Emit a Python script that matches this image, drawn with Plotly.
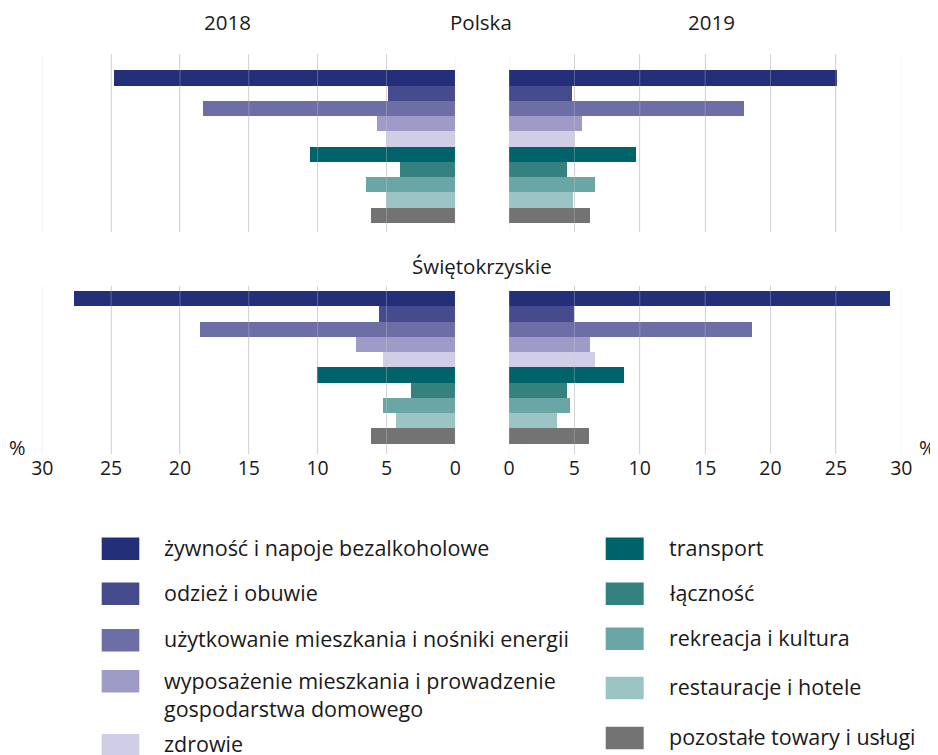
import plotly.graph_objects as go

categories = [
    "żywność i napoje bezalkoholowe",
    "odzież i obuwie",
    "użytkowanie mieszkania i nośniki energii",
    "wyposażenie mieszkania i prowadzenie<br>gospodarstwa domowego",
    "zdrowie",
    "transport",
    "łączność",
    "rekreacja i kultura",
    "restauracje i hotele",
    "pozostałe towary i usługi",
]
colors = ["#232F78", "#454B8C", "#6E6EA7", "#9E9CC6", "#CFCEE6",
          "#00636C", "#35817F", "#6BA6A6", "#9DC4C4", "#737373"]

polska_2018 = [24.8, 4.9, 18.3, 5.7, 5.0, 10.5, 4.0, 6.5, 5.0, 6.1]
polska_2019 = [25.1, 4.8, 18.0, 5.6, 5.0, 9.7, 4.4, 6.6, 4.9, 6.2]
swiet_2018 = [27.7, 5.5, 18.5, 7.2, 5.2, 10.0, 3.2, 5.2, 4.3, 6.1]
swiet_2019 = [29.1, 5.0, 18.6, 6.2, 6.6, 8.8, 4.4, 4.7, 3.7, 6.1]

tick_vals = [0, 5, 10, 15, 20, 25, 30]
tick_text = ["0", "5", "10", "15", "20", "25", "30"]

W, H = 938, 755
OFF = 8  # page body margin offset
FONT = "Open Sans"
TXT = "#1a1a1a"

def px_x(p):
    return (p - OFF) / W

def px_y(p):
    return 1 - (p - OFF) / H

fig = go.Figure()
idx = list(range(len(categories)))
panels = [
    (polska_2018, "x", "y"),
    (polska_2019, "x2", "y"),
    (swiet_2018, "x3", "y2"),
    (swiet_2019, "x4", "y2"),
]
for vals, xa, ya in panels:
    fig.add_trace(go.Bar(
        x=vals, y=idx, orientation="h", xaxis=xa, yaxis=ya,
        marker=dict(color=colors, line=dict(width=0)),
        width=1.0, showlegend=False,
        hovertext=[c.replace("<br>", " ") for c in categories],
    ))

left_dom = [px_x(42.3), px_x(455.3)]
right_dom = [px_x(509.0), px_x(901.3)]

def xax(dom, rng, anchor, labels):
    return dict(domain=dom, range=rng, anchor=anchor, automargin=False,
                tickvals=tick_vals, ticktext=tick_text,
                showticklabels=labels, ticks="",
                showgrid=True, gridcolor="#D9D9D9", gridwidth=1,
                zeroline=False, showline=False, fixedrange=True,
                tickfont=dict(family=FONT, size=19.5, color=TXT))

def yax(dom, rng):
    return dict(domain=dom, range=rng, showticklabels=False, showgrid=False,
                automargin=False,
                zeroline=False, showline=False, ticks="", fixedrange=True)

fig.update_layout(
    template="none",
    autosize=False,
    width=W, height=H,
    margin=dict(l=0, r=0, t=0, b=0, pad=0, autoexpand=False),
    paper_bgcolor="white", plot_bgcolor="white",
    bargap=0,
    xaxis=xax(left_dom, [30, 0], "y", False),
    xaxis2=xax(right_dom, [0, 30], "y", False),
    xaxis3=xax(left_dom, [30, 0], "y2", True),
    xaxis4=xax(right_dom, [0, 30], "y2", True),
    yaxis=yax([px_y(232.3), px_y(54.3)], [10.09, -1.57]),
    yaxis2=yax([px_y(454.0), px_y(285.7)], [10.19, -0.83]),
    showlegend=False,
)

# grid lines drawn faintly over the bars, as in the reference
for xa, ya in [("x", "y"), ("x2", "y"), ("x3", "y2"), ("x4", "y2")]:
    for tv in tick_vals:
        fig.add_shape(type="line", xref=xa, yref=ya + " domain",
                      x0=tv, x1=tv, y0=0, y1=1, layer="above",
                      line=dict(color="rgba(200,200,210,0.35)", width=1))

def text(x, y, s, size=20.5, xanchor="center"):
    fig.add_annotation(x=px_x(x), y=px_y(y), xref="paper", yref="paper",
                       text=s, showarrow=False, xanchor=xanchor, yanchor="middle",
                       font=dict(family=FONT, size=size, color=TXT))

text(227, 22, "2018")
text(481, 22, "Polska")
text(711, 22, "2019")
text(482, 266, "Świętokrzyskie")
text(17, 447, "%", size=20)
text(927, 447, "%", size=20)

# legend (manual, two columns)
LEG = 21.5
left_items = [(0, 548.7), (1, 593.7), (2, 640.3), (3, 681.3), (4, 745.3)]
right_items = [(5, 548.7), (6, 593.7), (7, 638.7), (8, 688.0), (9, 738.0)]
for items, sx0, sx1, tx in [(left_items, 101.7, 139.3, 161.5),
                             (right_items, 605.7, 643.7, 667.0)]:
    for i, cy in items:
        fig.add_shape(type="rect", xref="paper", yref="paper",
                      x0=px_x(sx0), x1=px_x(sx1),
                      y0=px_y(cy + 11.3), y1=px_y(cy - 11.3),
                      fillcolor=colors[i], line=dict(width=0))
        if "<br>" in categories[i]:
            fig.add_annotation(x=px_x(tx), y=px_y(cy - 17), xref="paper", yref="paper",
                               text=categories[i], showarrow=False,
                               xanchor="left", yanchor="top", align="left",
                               font=dict(family=FONT, size=LEG, color=TXT))
        else:
            text(tx, cy - 1.5, categories[i], size=LEG, xanchor="left")

fig.write_html("out.html", config={"displayModeBar": False},
               include_plotlyjs=True, full_html=True)
